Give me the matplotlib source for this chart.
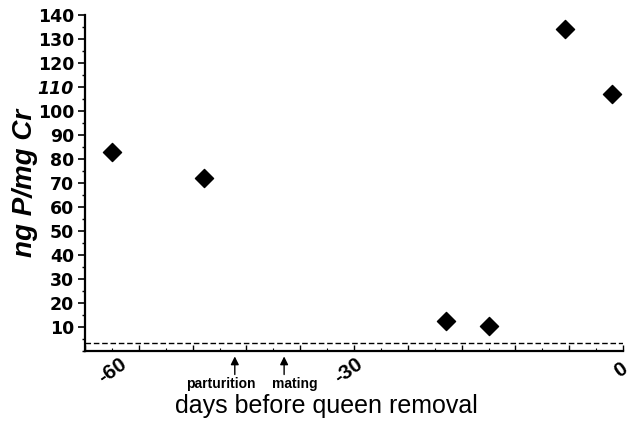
import numpy as np
import matplotlib
matplotlib.use('Agg')
import matplotlib.pyplot as plt
from matplotlib.ticker import MultipleLocator

# data
days = [-57, -46.7, -19.7, -15, -6.5, -1.2]
ng_p = [83, 72.2, 12.5, 10.3, 134.3, 107.2]
baseline = 3.3
events = ['parturition', 'mating']
event_days = [-43.3, -37.8]
y_ticks = list(range(10, 141, 10))
x_labels = {-60: '-60', -30: '-30', 0: '0'}

plt.rcParams['font.family'] = ['Liberation Sans', 'DejaVu Sans']

fig = plt.figure(figsize=(6.3, 4.3), dpi=100)
ax = fig.add_axes([0.135, 0.184, 0.854, 0.781])

ax.scatter(days, ng_p, marker='D', s=85, color='black', zorder=3)
ax.axhline(baseline, color='black', lw=1, ls=(0, (4, 2)))

ax.set_xlim(-60, 0)
ax.set_ylim(0, 140)
ax.spines['top'].set_visible(False)
ax.spines['right'].set_visible(False)
ax.spines['left'].set_linewidth(1.6)
ax.spines['bottom'].set_linewidth(1.6)

# y axis
ax.set_yticks(y_ticks)
ax.yaxis.set_minor_locator(MultipleLocator(5))
ax.tick_params(axis='y', which='major', direction='out', length=5, width=1.2,
               labelsize=12.5, pad=3)
ax.tick_params(axis='y', which='minor', direction='out', length=2.5, width=1)
for lab in ax.get_yticklabels():
    lab.set_fontweight('bold')
    lab.set_family('DejaVu Sans')
    if lab.get_text() == '110':
        lab.set_fontstyle('italic')
ax.set_ylabel('ng P/mg Cr', fontsize=20, fontweight='bold', style='italic',
              labelpad=0)

# x axis
ax.set_xticks(np.arange(-60, 1, 6))
ax.xaxis.set_minor_locator(MultipleLocator(3))
ax.set_xticklabels([])
ax.tick_params(axis='x', which='major', direction='in', length=4, width=1)
ax.tick_params(axis='x', which='minor', direction='in', length=2, width=0.8)
x_offsets = {-60: 20, -30: -4, 0: -2}
for xv, txt in x_labels.items():
    ax.annotate(txt, xy=(xv, 0), xycoords=('data', 'axes fraction'),
                xytext=(x_offsets[xv], -14), textcoords='offset points',
                ha='center', va='center', rotation=35, fontsize=15,
                fontweight='bold')

# event arrows under the axis
label_dx = [-10, 8]
for name, d, dx in zip(events, event_days, label_dx):
    ax.annotate('', xy=(d, 0), xycoords=('data', 'axes fraction'),
                xytext=(0, -17), textcoords='offset points',
                arrowprops=dict(arrowstyle='-|>', color='black', lw=1,
                                mutation_scale=12, shrinkA=0, shrinkB=4))
    ax.annotate(name, xy=(d, 0), xycoords=('data', 'axes fraction'),
                xytext=(dx, -19), textcoords='offset points',
                ha='center', va='top', fontsize=10, fontweight='bold')

ax.set_xlabel('days before queen removal', fontsize=18, labelpad=0)
ax.xaxis.set_label_coords(0.448, -0.163, transform=ax.transAxes)
ax.xaxis.label.set_va('center')

fig.savefig('out.png', dpi=100)
